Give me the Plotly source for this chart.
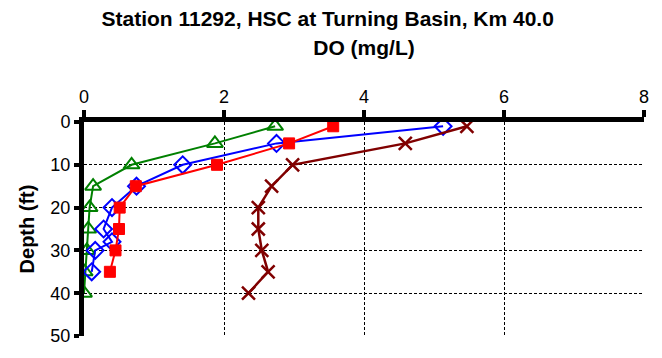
import plotly.graph_objects as go

depth_green = [1, 5, 10, 15, 20, 25, 30, 35, 40]
do_green = [2.73, 1.87, 0.68, 0.13, 0.08, 0.06, 0.04, 0.01, 0.0]

depth_blue = [1, 5, 10, 15, 20, 25, 28, 30, 35]
do_blue = [5.13, 2.75, 1.41, 0.75, 0.40, 0.28, 0.40, 0.16, 0.11]

depth_red = [1, 5, 10, 15, 20, 25, 30, 35]
do_red = [3.56, 2.93, 1.90, 0.74, 0.51, 0.50, 0.45, 0.37]

depth_maroon = [1, 5, 10, 15, 20, 25, 30, 35, 40]
do_maroon = [5.47, 4.59, 2.98, 2.68, 2.49, 2.49, 2.54, 2.63, 2.35]

x_ticks = [0, 2, 4, 6, 8]
y_ticks = [0, 10, 20, 30, 40, 50]

FONT = "Liberation Sans, Arial, sans-serif"

fig = go.Figure()
fig.add_trace(go.Scatter(x=do_green, y=depth_green, mode="lines+markers",
                         line=dict(color="#008000", width=2),
                         marker=dict(symbol="triangle-up-open", size=14, color="#008000",
                                     line=dict(width=2, color="#008000"))))
fig.add_trace(go.Scatter(x=do_blue, y=depth_blue, mode="lines+markers",
                         line=dict(color="#0000FF", width=2),
                         marker=dict(symbol="diamond-open", size=13, color="#0000FF",
                                     line=dict(width=2, color="#0000FF"))))
fig.add_trace(go.Scatter(x=do_red, y=depth_red, mode="lines+markers",
                         line=dict(color="#FF0000", width=2),
                         marker=dict(symbol="square", size=11, color="#FF0000",
                                     line=dict(width=1, color="#FF0000"))))
fig.add_trace(go.Scatter(x=do_maroon, y=depth_maroon, mode="lines+markers",
                         line=dict(color="#800000", width=2.5),
                         marker=dict(symbol="x-thin", size=13, color="#800000",
                                     line=dict(width=2.5, color="#800000"))))

fig.update_layout(
    width=662, height=358,
    margin=dict(l=84, r=18, t=122, b=13),
    paper_bgcolor="white", plot_bgcolor="white",
    showlegend=False,
    font=dict(family=FONT, size=18, color="black"),
    title=dict(text="<b>Station 11292, HSC at Turning Basin, Km 40.0</b>",
               x=0.495, xanchor="center", y=0.947, yanchor="middle",
               font=dict(family=FONT, size=21, color="black")),
    xaxis=dict(side="top", range=[0, 8], tickvals=x_ticks, ticktext=[str(v) for v in x_ticks],
               showline=True, linewidth=5, linecolor="black",
               ticks="outside", ticklen=7, tickwidth=4, tickcolor="black",
               showgrid=True, gridcolor="black", gridwidth=1, griddash="3px,2px",
               zeroline=False,
               tickfont=dict(family=FONT, size=18),
               title=dict(text="<b>DO (mg/L)</b>", standoff=27,
                          font=dict(family=FONT, size=21))),
    yaxis=dict(range=[50, 0], tickvals=y_ticks, ticktext=[str(v) for v in y_ticks],
               showline=True, linewidth=5, linecolor="black",
               ticks="outside", ticklen=5, tickwidth=4, tickcolor="black",
               showgrid=True, gridcolor="black", gridwidth=1, griddash="3px,2px",
               zeroline=False,
               tickfont=dict(family=FONT, size=18),
               title=dict(text="<b>Depth (ft)</b>", standoff=12,
                          font=dict(family=FONT, size=20))),
)

fig.write_html("out.html")
